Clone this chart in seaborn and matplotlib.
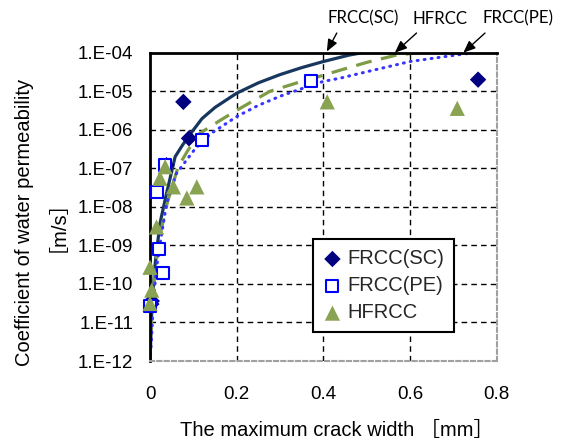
import matplotlib
matplotlib.use("Agg")
import matplotlib.pyplot as plt
from matplotlib.ticker import FixedLocator, FixedFormatter
import seaborn as sns
import pandas as pd

# fitted curves (crack width mm, permeability m/s)
sc_curve_w = [0, 0.002, 0.005, 0.012, 0.023, 0.038, 0.058, 0.075, 0.092, 0.12, 0.15, 0.2, 0.25, 0.3, 0.35, 0.4, 0.46, 0.52]
sc_curve_k = [1e-12, 4.2e-12, 3.8e-11, 3.4e-10, 3.7e-9, 2.2e-8, 2.0e-7, 4.0e-7, 7.5e-7, 1.95e-6, 3.8e-6, 8.9e-6, 1.65e-5, 2.7e-5, 4.1e-5, 5.9e-5, 8.7e-5, 1.15e-4]

hf_curve_w = [0, 0.004, 0.01, 0.02, 0.04, 0.065, 0.088, 0.115, 0.16, 0.2, 0.277, 0.35, 0.4, 0.438, 0.5, 0.569, 0.64]
hf_curve_k = [1e-12, 1.3e-11, 1.6e-10, 1.3e-9, 1.3e-8, 1.1e-7, 3.0e-7, 8.1e-7, 1.7e-6, 3.2e-6, 1.0e-5, 1.8e-5, 2.6e-5, 3.5e-5, 5.6e-5, 8.7e-5, 1.05e-4]

pe_curve_w = [0, 0.0038, 0.0077, 0.0154, 0.027, 0.038, 0.06, 0.104, 0.14, 0.2, 0.25, 0.3, 0.362, 0.4, 0.44, 0.5, 0.6, 0.68, 0.746]
pe_curve_k = [1e-12, 4.2e-12, 3.8e-11, 2.8e-10, 2.0e-9, 1.2e-8, 7.1e-8, 3.2e-7, 7.9e-7, 2.2e-6, 4.3e-6, 7.4e-6, 1.3e-5, 1.8e-5, 2.2e-5, 3.2e-5, 5.9e-5, 7.9e-5, 1.0e-4]

# measured points
sc_w = [0.003, 0.004, 0.038, 0.077, 0.09, 0.757]
sc_k = [3.0e-11, 3.6e-11, 1.2e-7, 5.3e-6, 6.0e-7, 2.0e-5]
pe_w = [0.0, 0.016, 0.021, 0.031, 0.035, 0.119, 0.371]
pe_k = [2.6e-11, 2.5e-8, 8.0e-10, 1.9e-10, 1.2e-7, 5.4e-7, 1.8e-5]
hf_w = [0.0, 0.004, 0.0, 0.015, 0.035, 0.023, 0.054, 0.108, 0.085, 0.409, 0.709]
hf_k = [3.1e-11, 6.9e-11, 2.7e-10, 3.0e-9, 1.1e-7, 5.5e-8, 3.3e-8, 3.3e-8, 1.7e-8, 5.3e-6, 3.6e-6]

x_ticks = [0, 0.2, 0.4, 0.6, 0.8]
x_ticklabels = ["0", "0.2", "0.4", "0.6", "0.8"]
y_ticks = [1e-12, 1e-11, 1e-10, 1e-9, 1e-8, 1e-7, 1e-6, 1e-5, 1e-4]
y_ticklabels = ["1.E-12", "1.E-11", "1.E-10", "1.E-09", "1.E-08", "1.E-07", "1.E-06", "1.E-05", "1.E-04"]

sns.set_theme(style="white")
plt.rcParams['font.family'] = ['Liberation Sans', 'Noto Sans CJK JP']

fig = plt.figure(figsize=(5.64, 4.43), dpi=100)
ax = fig.add_axes([150 / 564, 82 / 443, 346.7 / 564, 308.3 / 443])

sns.lineplot(x=sc_curve_w, y=sc_curve_k, sort=False, estimator=None, color="#17375E", lw=2.3, ax=ax)
sns.lineplot(x=hf_curve_w, y=hf_curve_k, sort=False, estimator=None, color="#7E9B46", lw=2.3, ax=ax)
ax.lines[-1].set_dashes((5, 3))
sns.lineplot(x=pe_curve_w, y=pe_curve_k, sort=False, estimator=None, color="#3535FF", lw=2.2, ax=ax)
ax.lines[-1].set_dashes((0.3, 2.0))
ax.lines[-1].set_dash_capstyle("round")

sns.scatterplot(x=sc_w, y=sc_k, marker="D", s=70, color="#000080", edgecolor="none", label="FRCC(SC)", ax=ax, zorder=4)
sns.scatterplot(x=pe_w, y=pe_k, marker="s", s=75, facecolor="white", edgecolor="#0000FF", linewidth=1.5,
                label="FRCC(PE)", ax=ax, zorder=5)
sns.scatterplot(x=hf_w, y=hf_k, marker="^", s=120, color="#8AA353", edgecolor="none", label="HFRCC", ax=ax, zorder=6)
for c in ax.collections:
    c.set_clip_on(False)

ax.set_yscale("log")
ax.set_xlim(0, 0.8)
ax.set_ylim(1e-12, 1e-4)
ax.xaxis.set_major_locator(FixedLocator(x_ticks))
ax.xaxis.set_major_formatter(FixedFormatter(x_ticklabels))
ax.yaxis.set_major_locator(FixedLocator(y_ticks))
ax.yaxis.set_major_formatter(FixedFormatter(y_ticklabels))
ax.yaxis.set_minor_locator(FixedLocator([]))
ax.tick_params(axis="y", length=0, pad=12, labelsize=13.5, colors="black")
ax.tick_params(axis="x", length=0, pad=18, labelsize=13.5, colors="black")

ax.grid(True, color="black", linestyle=(0, (4, 3)), linewidth=1.0)
for gl in [ax.get_xgridlines()[0], ax.get_xgridlines()[-1], ax.get_ygridlines()[0], ax.get_ygridlines()[-1]]:
    gl.set_visible(False)

for side in ["top", "left"]:
    ax.spines[side].set_color("black")
    ax.spines[side].set_linewidth(2)
for side in ["bottom", "right"]:
    ax.spines[side].set_color("#A0A0A0")
    ax.spines[side].set_linewidth(1.5)
    ax.spines[side].set_linestyle((0, (2, 1.5)))

ax.set_xlabel("The maximum crack width ［mm］", fontsize=14.5, color="black")
ax.xaxis.set_label_coords(0.54, -0.195)
ax.set_ylabel("")
fig.text(25 / 564, 1 - 222 / 443, "Coefficient of water permeability", rotation=90,
         ha="center", va="center", fontsize=14.5, color="black")
fig.text(47 / 564, 1 - 216 / 443, "［m/s］", rotation=90,
         ha="center", va="center", fontsize=14.5, color="black")

leg = ax.legend(loc="upper left", bbox_to_anchor=(0.471, 0.395), borderaxespad=0, fontsize=14.5,
                frameon=True, fancybox=False, edgecolor="black", framealpha=1,
                handlelength=0.9, handletextpad=0.3, labelspacing=0.4, borderpad=0.5)
leg.get_frame().set_linewidth(1.5)

# labels with arrows above the plot
ann_font = dict(family=["Lato", "DejaVu Sans"], fontsize=12.2, color="black")
for name, txt_xy, tail, tip in [("FRCC(SC)", (0.491, 10**-3.12), (0.431, 10**-3.49), (0.408, 10**-3.97)),
                                 ("HFRCC", (0.669, 10**-3.12), (0.615, 10**-3.49), (0.565, 10**-4.0)),
                                 ("FRCC(PE)", (0.849, 10**-3.12), (0.773, 10**-3.49), (0.723, 10**-4.0))]:
    ax.text(txt_xy[0], txt_xy[1], name, ha="center", va="center", clip_on=False, **ann_font)
    ax.annotate("", xy=tip, xytext=tail, annotation_clip=False,
                arrowprops=dict(arrowstyle="-|>,head_length=0.6,head_width=0.25", color="black", lw=1.0,
                                shrinkA=0, shrinkB=0))

fig.savefig("out.png", dpi=100)
